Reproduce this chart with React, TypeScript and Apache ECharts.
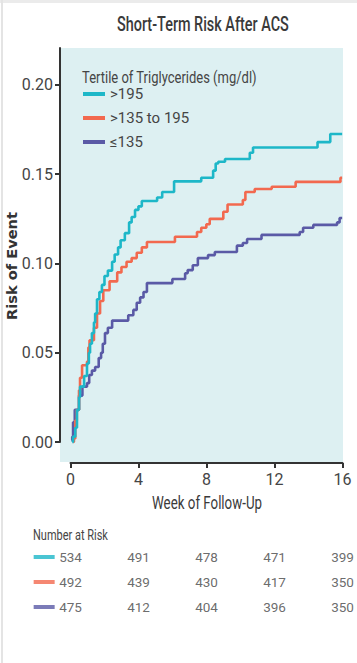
import React, { useEffect, useRef } from "react";
import * as echarts from "echarts";

const seriesNames = [">195", ">135 to 195", "≤135"];
const colors = ["#1db7c8", "#f2694f", "#5a5aa6"];

const highTG: [number, number][] = [
  [0.1, 0], [0.15, 0.003], [0.28, 0.008], [0.38, 0.018], [0.5, 0.025], [0.56, 0.031], [0.8, 0.037],
  [0.97, 0.044], [1.08, 0.05], [1.15, 0.055], [1.26, 0.061], [1.38, 0.067], [1.45, 0.072],
  [1.56, 0.08], [1.7, 0.084], [1.85, 0.088], [2.0, 0.093], [2.2, 0.096], [2.45, 0.101],
  [2.6, 0.105], [2.8, 0.109], [2.95, 0.113], [3.2, 0.117], [3.45, 0.123], [3.6, 0.126],
  [3.8, 0.13], [4.0, 0.132], [4.2, 0.135], [5.1, 0.137], [5.4, 0.14], [6.1, 0.146],
  [7.7, 0.148], [8.4, 0.152], [8.55, 0.156], [8.7, 0.157], [9.1, 0.1585], [10.56, 0.162],
  [10.75, 0.165], [14.55, 0.168], [15.3, 0.1725], [16, 0.1725],
];

const midTG: [number, number][] = [
  [0.15, 0], [0.2, 0.002], [0.28, 0.012], [0.37, 0.018], [0.5, 0.029], [0.56, 0.036],
  [0.68, 0.043], [0.97, 0.045], [1.05, 0.053], [1.12, 0.057], [1.38, 0.064], [1.56, 0.072],
  [1.74, 0.079], [1.93, 0.085], [2.3, 0.09], [2.75, 0.095], [3.0, 0.098], [3.3, 0.101],
  [3.6, 0.103], [3.9, 0.106], [4.2, 0.109], [4.5, 0.112], [6.15, 0.115], [7.45, 0.1176],
  [7.7, 0.12], [8.0, 0.122], [8.2, 0.125], [9.0, 0.129], [9.25, 0.133], [10.15, 0.1356],
  [10.3, 0.14], [10.85, 0.1417], [11.85, 0.143], [13.26, 0.1457], [15.9, 0.148], [16, 0.148],
];

const lowTG: [number, number][] = [
  [0.05, 0.001], [0.1, 0.003], [0.15, 0.011], [0.25, 0.018], [0.5, 0.026], [0.7, 0.031],
  [0.97, 0.033], [1.1, 0.0375], [1.26, 0.04], [1.45, 0.042], [1.66, 0.047], [1.8, 0.05],
  [1.9, 0.055], [2.03, 0.061], [2.2, 0.064], [2.45, 0.068], [3.4, 0.071], [3.7, 0.074],
  [3.9, 0.078], [4.1, 0.081], [4.3, 0.084], [4.5, 0.089], [6.0, 0.0913], [6.75, 0.0945],
  [6.9, 0.0963], [7.2, 0.099], [7.5, 0.103], [8.1, 0.1047], [8.5, 0.1064], [9.8, 0.11],
  [10.15, 0.1115], [10.4, 0.1137], [11.25, 0.116], [13.5, 0.1176], [13.7, 0.12],
  [14.3, 0.1216], [15.7, 0.123], [15.85, 0.1255], [16, 0.1255],
];

const curves = [highTG, midTG, lowTG];

const riskWeeks = [0, 4, 8, 12, 16];
const atRiskHigh = [534, 491, 478, 471, 399];
const atRiskMid = [492, 439, 430, 417, 350];
const atRiskLow = [475, 412, 404, 396, 350];
const atRiskRows = [atRiskHigh, atRiskMid, atRiskLow];

const yTicks = [0, 0.05, 0.1, 0.15, 0.2];

const FONT = "Roboto, 'Liberation Sans', sans-serif";
const TEXT = "#454545";

function measure(text: string, weight: string | number, size: number, family: string) {
  const ctx = document.createElement("canvas").getContext("2d");
  if (!ctx) return text.length * size * 0.5;
  ctx.font = `${weight} ${size}px ${family}`;
  return ctx.measureText(text).width;
}

function fitScale(text: string, weight: string | number, size: number, family: string, target: number) {
  const w = measure(text, weight, size, family);
  return target / w;
}

export default function App() {
  const ref = useRef<HTMLDivElement>(null);
  useEffect(() => {
    if (!ref.current) return;
    const chart = echarts.init(ref.current, undefined, { renderer: "svg" });

    const titleText = "Short-Term Risk After ACS";
    const legendTitle = "Tertile of Triglycerides (mg/dl)";
    const nRiskText = "Number at Risk";
    const yName = "Risk of Event";
    const xName = "Week of Follow-Up";

    const lineSeries = curves.map((d, i) => ({
      name: seriesNames[i],
      type: "line",
      xAxisIndex: 0,
      yAxisIndex: 0,
      step: "end",
      showSymbol: false,
      symbol: "none",
      data: d,
      lineStyle: { color: colors[i], width: 2.6 },
      itemStyle: { color: colors[i] },
      z: 5 - i,
    }));
    const tableSeries = {
      type: "scatter",
      xAxisIndex: 3,
      yAxisIndex: 3,
      symbolSize: 1,
      itemStyle: { color: "rgba(0,0,0,0)" },
      silent: true,
      data: atRiskRows.flatMap((row, r) =>
        row.map((n, k) => ({ value: [riskWeeks[k], r, n] }))
      ),
      label: {
        show: true,
        position: "inside",
        formatter: (p: any) => String(p.value[2]),
        fontFamily: FONT,
        fontSize: 13.5,
        color: TEXT,
      },
    };
    const markerSeries = {
      type: "scatter",
      xAxisIndex: 3,
      yAxisIndex: 3,
      symbol: "rect",
      symbolSize: [21, 4],
      silent: true,
      data: colors.map((c, r) => ({ value: [-1.55, r], itemStyle: { color: c } })),
    };

    const textEl = (
      text: string,
      x: number,
      y: number,
      size: number,
      weight: string | number,
      target: number,
      fill: string,
      align: string,
      family: string = FONT,
      rotation = 0
    ) => ({
      type: "text",
      x,
      y,
      rotation,
      scaleX: fitScale(text, weight, size, family, target),
      style: {
        text,
        fontFamily: family,
        fontSize: size,
        fontWeight: weight,
        fill,
        textAlign: align,
        textVerticalAlign: "middle",
      },
    });

    chart.setOption({
      animation: false,
      legend: {
        data: seriesNames,
        orient: "vertical",
        left: 83,
        top: 85,
        padding: 0,
        icon: "rect",
        itemWidth: 22,
        itemHeight: 4,
        itemGap: 6,
        textStyle: { fontFamily: FONT, fontSize: 15, color: TEXT, lineHeight: 18 },
      },
      grid: [
        { left: 60, top: 48, width: 283, height: 414, show: true, backgroundColor: "#ddf0f2", borderWidth: 0 },
        { left: 60, top: 48, width: 283, height: 394, show: false },
        { left: 70.5, top: 462, width: 272, height: 1, show: false },
        { left: 28, top: 544.5, width: 314.5, height: 75, show: false },
      ],
      xAxis: [
        { gridIndex: 0, type: "value", min: -0.62, max: 16.05, show: false },
        { gridIndex: 1, type: "value", min: 0, max: 1, show: false },
        {
          gridIndex: 2,
          type: "value",
          min: 0,
          max: 16,
          interval: 4,
          position: "bottom",
          axisLine: { show: true, lineStyle: { color: "#333", width: 2 } },
          axisTick: { show: true, length: 5, lineStyle: { color: "#333", width: 2 } },
          axisLabel: { fontFamily: FONT, fontSize: 16, color: TEXT, margin: 8 },
          splitLine: { show: false },
        },
        { gridIndex: 3, type: "value", min: -2.5, max: 16, show: false },
      ],
      yAxis: [
        { gridIndex: 0, type: "value", min: -0.0112, max: 0.2207, show: false },
        {
          gridIndex: 1,
          type: "value",
          min: 0,
          max: 0.2207,
          axisLine: { show: true, lineStyle: { color: "#333", width: 2 } },
          axisTick: { show: true, length: 5, customValues: yTicks, lineStyle: { color: "#333", width: 2 } },
          axisLabel: {
            customValues: yTicks,
            formatter: (v: number) => v.toFixed(2),
            fontFamily: FONT,
            fontSize: 16,
            color: TEXT,
            margin: 7,
          },
          splitLine: { show: false },
        },
        { gridIndex: 2, type: "value", show: false },
        { gridIndex: 3, type: "category", data: ["a", "b", "c"], inverse: true, show: false },
      ],
      graphic: [
        { type: "rect", shape: { x: 0, y: 0, width: 357, height: 3 }, style: { fill: "#ebebeb" }, silent: true },
        { type: "rect", shape: { x: 1, y: 0, width: 2, height: 663 }, style: { fill: "#e4e4e4" }, silent: true },
        textEl(titleText, 117, 24, 20, 500, 172, "#3a3a3a", "left"),
        textEl(legendTitle, 82, 77, 17, "normal", 175, TEXT, "left"),
        textEl(nRiskText, 33, 535, 14, "normal", 75, TEXT, "left"),
        textEl(xName, 207, 503, 18, "normal", 110, "#3a3a3a", "center"),
        textEl(yName, 12, 266, 14, "bold", 108, "#333", "center", "'DejaVu Sans', sans-serif", Math.PI / 2),
      ],
      series: [...lineSeries, tableSeries, markerSeries],
    });
    return () => chart.dispose();
  }, []);
  return (
    <div
      ref={ref}
      style={{ position: "fixed", left: 0, top: 0, width: 357, height: 663, background: "#fff" }}
    />
  );
}
